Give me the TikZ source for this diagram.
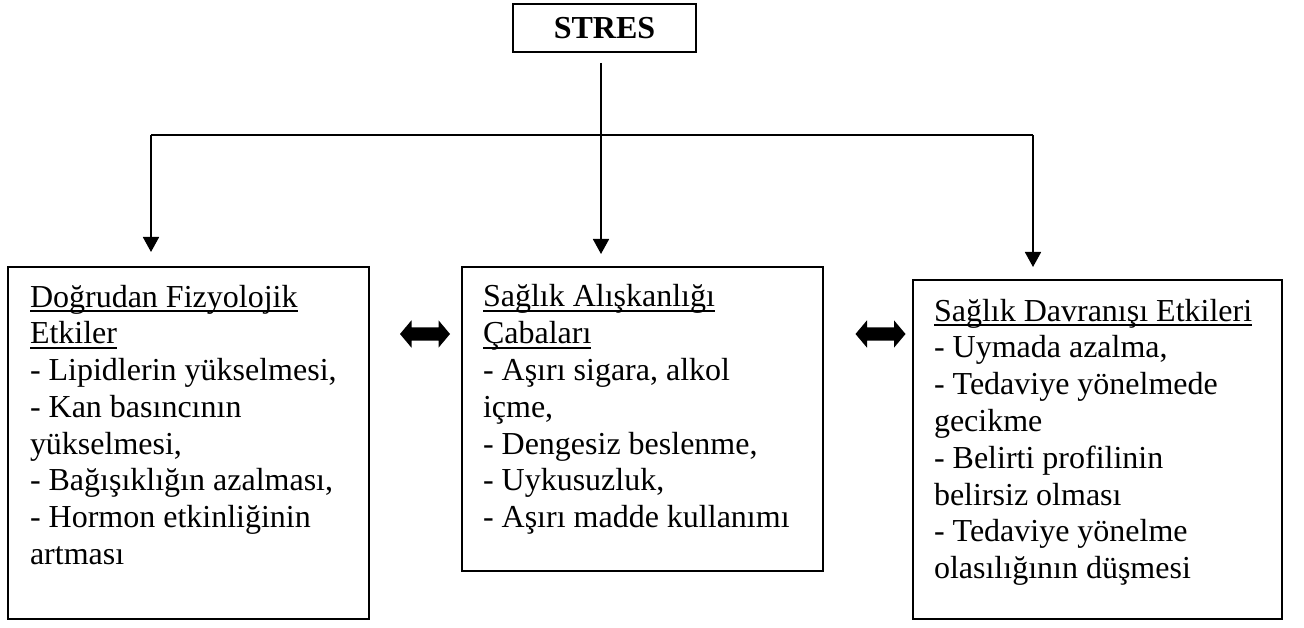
\documentclass[tikz,border=0pt]{standalone}
\usepackage{fontspec}
\setmainfont{Liberation Serif}
\usepackage{tikz}
\usetikzlibrary{arrows.meta,shapes.arrows}
\newcommand{\ulx}[1]{\setbox0\hbox{#1}\rlap{\rule[-4.8pt]{\wd0}{1.5pt}}\box0}
\newcommand{\firstln}{\rule{0pt}{25pt}}

\begin{document}
\begin{tikzpicture}[x=1pt,y=1pt,
every node/.style={
rectangle,
align = left,
anchor=south west,
outer sep=0pt,
font=\fontsize{32}{36.8}\selectfont,
},
box/.style={
draw,
line width=1.8pt,
},
txt/.style={
anchor=north west,
inner sep=0pt,
},
line/.style={
line width=1.8pt,
},
arr/.style={
line width=1.8pt,
-{Triangle[width=16pt,length=15pt]},
},
both/.style={
double arrow,
fill=black,
anchor=center,
inner xsep=0pt,
inner ysep=6.5pt,
minimum height=50pt,
double arrow head extend=7pt,
double arrow tip angle=100,
}]
\useasboundingbox (0,0) rectangle (1304,627);

%Stres box
\node[box,minimum height=48pt,minimum width=183pt,anchor=south west](stres)at(513,575){\raisebox{-2pt}{\textbf{STRES}}};

%three boxes
\node[box,minimum height=352pt,minimum width=361pt](fizyo)at(8,8){};
\node[txt](fizyotxt)at(30,345){\firstln\ulx{Doğrudan Fizyolojik}\\
\ulx{Etkiler}\\
- Lipidlerin yükselmesi,\\
- Kan basıncının\\
yükselmesi,\\
- Bağışıklığın azalması,\\
- Hormon etkinliğinin\\
artması};
\node[box,minimum height=304pt,minimum width=361pt](aliskan)at(462,56){};
\node[txt](aliskantxt)at(483,345){\firstln\ulx{Sağlık Alışkanlığı}\\
\ulx{Çabaları}\\
- Aşırı sigara, alkol\\
içme,\\
- Dengesiz beslenme,\\
- Uykusuzluk,\\
- Aşırı madde kullanımı};
\node[box,minimum height=339pt,minimum width=369pt](davran)at(913,8){};
\node[txt](davrantxt)at(934,331){\firstln\ulx{Sağlık Davranışı Etkileri}\\
- Uymada azalma,\\
- Tedaviye yönelmede\\
gecikme\\
- Belirti profilinin\\
belirsiz olması\\
- Tedaviye yönelme\\
olasılığının düşmesi};

%double arrows
\node[both](ok1)at(425,293){};
\node[both](ok2)at(880.5,293){};

%tree lines
\coordinate(split)at(601,492);
\coordinate(lsplit)at(151,492);
\coordinate(rsplit)at(1033,492);
\draw[line,shorten <=11pt](stres.south -| split)--(split);
\draw[line](lsplit)--(rsplit);
\draw[arr,shorten >=15pt](lsplit)--(lsplit |- fizyo.north);
\draw[arr,shorten >=13pt](split)--(split |- aliskan.north);
\draw[arr,shorten >=13pt](rsplit)--(rsplit |- davran.north);
\end{tikzpicture}
\end{document}
